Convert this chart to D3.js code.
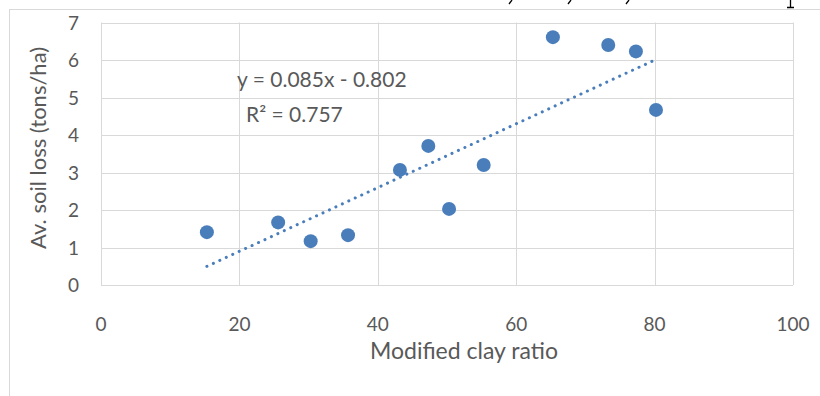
<!DOCTYPE html>
<html>
<head>
<meta charset="utf-8">
<script src="https://cdn.jsdelivr.net/npm/d3@7/dist/d3.min.js"></script>
<style>
  body { margin: 0; background: #fff; }
  text { font-family: Lato, "Open Sans", sans-serif; }
</style>
</head>
<body>
<div id="chart"></div>
<script>
// data
const clayRatio = [15.3, 25.6, 30.3, 35.7, 43.2, 47.3, 50.3, 55.3, 65.3, 73.3, 77.3, 80.2];
const soilLoss = [1.41, 1.67, 1.17, 1.33, 3.07, 3.71, 2.03, 3.2, 6.61, 6.4, 6.23, 4.67];
const xTicks = [0, 20, 40, 60, 80, 100];
const yTicks = [0, 1, 2, 3, 4, 5, 6, 7];
const slope = 0.085;
const intercept = -0.802;
const r2 = 0.757;

const svgWidth = 820;
const svgHeight = 396;
const svg = d3.select('#chart')
  .append('svg')
  .attr('width', svgWidth)
  .attr('height', svgHeight);

// cut-off bits of the page text above the chart (comma tails, a descender)
svg.selectAll('.frag')
  .data([510, 569, 627])
  .join('path')
  .attr('d', d => `M${d + 2},0L${d - 1},4`)
  .attr('stroke', '#000')
  .attr('stroke-width', 1.3);
svg.append('path')
  .attr('d', 'M790.5,0V7M787,7.5H794')
  .attr('stroke', '#000')
  .attr('stroke-width', 1.3);

// chart frame
svg.append('rect')
  .attr('x', 9.5).attr('y', 9.5)
  .attr('width', 830).attr('height', 400)
  .attr('fill', 'none')
  .attr('stroke', '#d9d9d9');

const x = d3.scaleLinear().domain([0, 100]).range([101, 793]);
const y = d3.scaleLinear().domain([0, 7]).range([285, 22.5]);

// grid
svg.append('g')
  .selectAll('line')
  .data(xTicks)
  .join('line')
  .attr('x1', d => Math.round(x(d)) + 0.5).attr('x2', d => Math.round(x(d)) + 0.5)
  .attr('y1', y(7)).attr('y2', y(0))
  .attr('stroke', '#d9d9d9');
svg.append('g')
  .selectAll('line')
  .data(yTicks)
  .join('line')
  .attr('x1', x(0)).attr('x2', x(100))
  .attr('y1', d => Math.round(y(d)) + 0.5).attr('y2', d => Math.round(y(d)) + 0.5)
  .attr('stroke', '#d9d9d9');

// tick labels
svg.append('g')
  .selectAll('text')
  .data(yTicks)
  .join('text')
  .attr('x', 79)
  .attr('y', d => y(d) + 7)
  .attr('text-anchor', 'end')
  .attr('font-size', 19)
  .attr('fill', '#595959')
  .text(d => d);
svg.append('g')
  .selectAll('text')
  .data(xTicks)
  .join('text')
  .attr('x', d => x(d))
  .attr('y', 331)
  .attr('text-anchor', 'middle')
  .attr('font-size', 19)
  .attr('fill', '#595959')
  .text(d => d);

// axis titles
svg.append('text')
  .attr('x', 464).attr('y', 359)
  .attr('text-anchor', 'middle')
  .attr('font-size', 23)
  .attr('fill', '#595959')
  .text('Modified clay ratio');
svg.append('text')
  .attr('transform', 'translate(46,148) rotate(-90)')
  .attr('text-anchor', 'middle')
  .attr('font-size', 22)
  .attr('fill', '#595959')
  .text('Av. soil loss (tons/ha)');

// trend line
const xMin = d3.min(clayRatio);
const xMax = d3.max(clayRatio);
svg.append('line')
  .attr('x1', x(xMin)).attr('y1', y(slope * xMin + intercept))
  .attr('x2', x(xMax)).attr('y2', y(slope * xMax + intercept))
  .attr('stroke', '#4a7ebb')
  .attr('stroke-width', 3)
  .attr('stroke-linecap', 'round')
  .attr('stroke-dasharray', '0.1 7');

// points
svg.append('g')
  .selectAll('circle')
  .data(clayRatio)
  .join('circle')
  .attr('cx', d => x(d))
  .attr('cy', (d, i) => y(soilLoss[i]))
  .attr('r', 7)
  .attr('fill', '#4a7ebb');

// equation
svg.append('text')
  .attr('x', 237).attr('y', 87)
  .attr('font-size', 21)
  .attr('fill', '#595959')
  .text(`y = ${slope}x - ${Math.abs(intercept)}`);
svg.append('text')
  .attr('x', 246).attr('y', 122)
  .attr('font-size', 21)
  .attr('fill', '#595959')
  .text(`R² = ${r2}`);
</script>
</body>
</html>
